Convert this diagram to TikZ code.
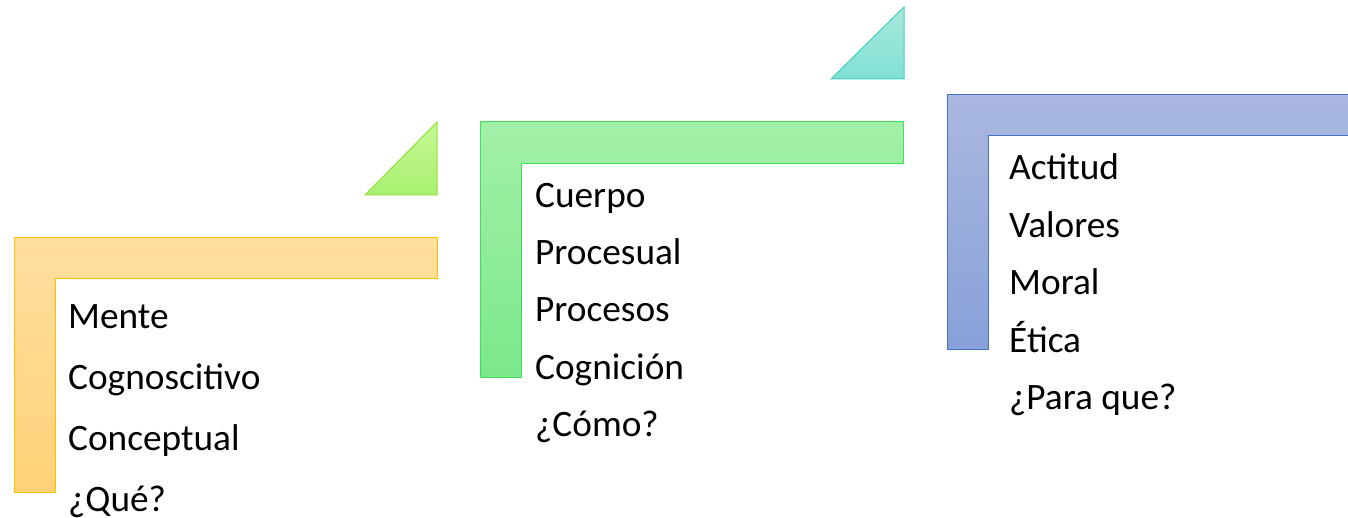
\documentclass[tikz,border=0pt]{standalone}
\usepackage{fontspec}
\setmainfont{Carlito}
\begin{document}
\begin{tikzpicture}[x=1pt,y=-1pt,
  lbl/.style={anchor=base west,inner sep=0pt,font=\fontsize{37.3}{42}\selectfont},
  shp/.style={line width=1pt}]
\useasboundingbox (0,0) rectangle (1348,518);
% orange L
\shadedraw[shp,draw={rgb,255:red,255;green,192;blue,0},top color={rgb,255:red,255;green,222;blue,160},bottom color={rgb,255:red,255;green,210;blue,120}]
  (14,238) -- (437,238) -- (437,279) -- (55,279) -- (55,492) -- (14,492) -- cycle;
% lime triangle
\shadedraw[shp,draw={rgb,255:red,146;green,225;blue,60},top color={rgb,255:red,196;green,248;blue,146},bottom color={rgb,255:red,168;green,240;blue,112}]
  (365,195) -- (437,195) -- (437,122) -- cycle;
% green L
\shadedraw[shp,draw={rgb,255:red,64;green,222;blue,90},top color={rgb,255:red,162;green,240;blue,168},bottom color={rgb,255:red,124;green,232;blue,138}]
  (480,122) -- (903,122) -- (903,164) -- (521,164) -- (521,377) -- (480,377) -- cycle;
% teal triangle
\shadedraw[shp,draw={rgb,255:red,64;green,208;blue,192},top color={rgb,255:red,170;green,232;blue,220},bottom color={rgb,255:red,128;green,224;blue,212}]
  (831,79) -- (904,79) -- (904,7) -- cycle;
% blue L
\shadedraw[shp,draw={rgb,255:red,68;green,114;blue,196},top color={rgb,255:red,170;green,184;blue,224},bottom color={rgb,255:red,136;green,160;blue,216}]
  (947,95) -- (1349,95) -- (1349,136) -- (988,136) -- (988,349) -- (947,349) -- cycle;
% texts
\node[lbl] (o1) at (68,328) {Mente};
\node[lbl] (o2) at (68,389) {Cognoscitivo};
\node[lbl] (o3) at (68,450) {Conceptual};
\node[lbl] (o4) at (68,511) {¿Qué?};
\node[lbl] (g1) at (535,208) {Cuerpo};
\node[lbl] (g2) at (535,265) {Procesual};
\node[lbl] (g3) at (535,322) {Procesos};
\node[lbl] (g4) at (535,379) {Cognición};
\node[lbl] (g5) at (535,436) {¿Cómo?};
\node[lbl] (b1) at (1009,180) {Actitud};
\node[lbl] (b2) at (1009,238) {Valores};
\node[lbl] (b3) at (1009,295) {Moral};
\node[lbl] (b4) at (1009,352) {Ética};
\node[lbl] (b5) at (1009,409) {¿Para que?};
\end{tikzpicture}
\end{document}
